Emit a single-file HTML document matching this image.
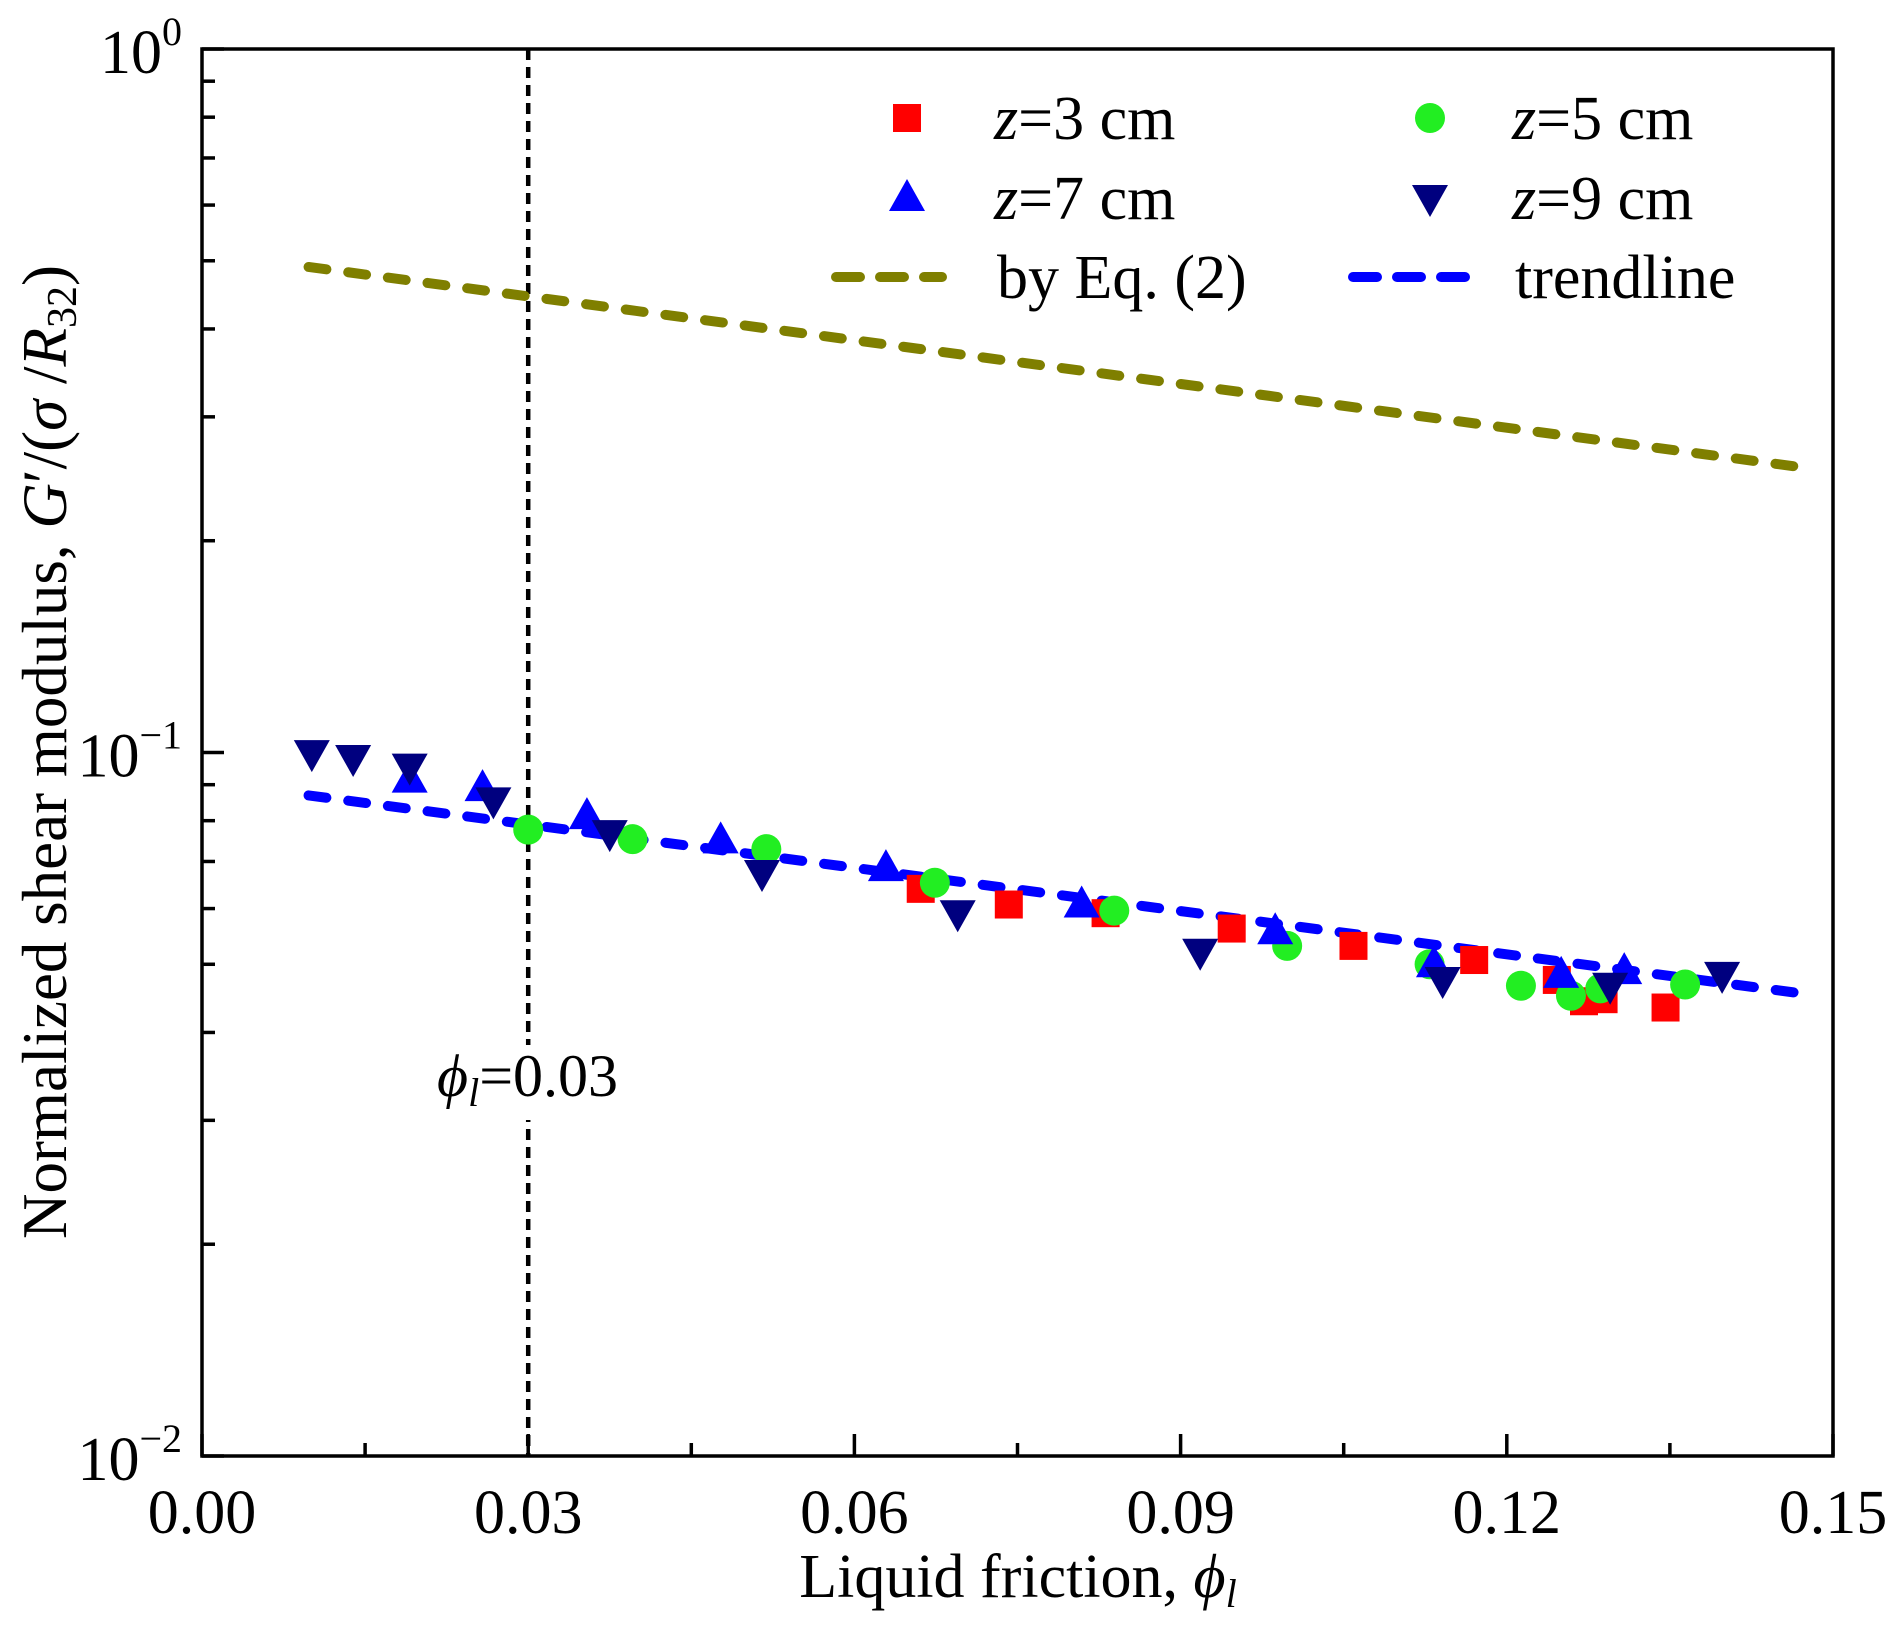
<!DOCTYPE html>
<html><head><meta charset="utf-8">
<style>
html,body{margin:0;padding:0;background:#fff;}
svg{display:block;font-family:"Liberation Serif",serif;}
</style></head>
<body>
<svg id="chart" width="1900" height="1625" viewBox="0 0 1900 1625" xmlns="http://www.w3.org/2000/svg">
<g id="axes"></g>
<g id="marks"></g>
<g id="legend"></g>
</svg>
<script>
const xTicks = [0, 0.03, 0.06, 0.09, 0.12, 0.15];
const xTickLabels = ["0.00", "0.03", "0.06", "0.09", "0.12", "0.15"];
const yDecades = [0, -1, -2];
const z3x = [0.0661, 0.0742, 0.0831, 0.0947, 0.1059, 0.1170, 0.1246, 0.1271, 0.1289, 0.1346];
const z3y = [0.0640, 0.0608, 0.0591, 0.0562, 0.0531, 0.0507, 0.0475, 0.0443, 0.0446, 0.0434];
const z5x = [0.0300, 0.0396, 0.0519, 0.0674, 0.0839, 0.0998, 0.1129, 0.1213, 0.1259, 0.1286, 0.1364];
const z5y = [0.0777, 0.0753, 0.0729, 0.0653, 0.0596, 0.0531, 0.0500, 0.0466, 0.0451, 0.0462, 0.0468];
const z7x = [0.0191, 0.0258, 0.0354, 0.0477, 0.0629, 0.0809, 0.0987, 0.1133, 0.1250, 0.1308];
const z7y = [0.0915, 0.0890, 0.0812, 0.0750, 0.0685, 0.0608, 0.0557, 0.0500, 0.0483, 0.0489];
const z9x = [0.0101, 0.0139, 0.0191, 0.0268, 0.0375, 0.0515, 0.0695, 0.0918, 0.1141, 0.1295, 0.1398];
const z9y = [0.0998, 0.0982, 0.0955, 0.0855, 0.0768, 0.0674, 0.0591, 0.0521, 0.0475, 0.0466, 0.0483];
const trendX = [0.0098, 0.1478];
const trendY = [0.0869, 0.0453];
const eq2X = [0.0098, 0.1478];
const eq2Y = [0.490, 0.2535];
const refLineX = 0.03;

const NS = "http://www.w3.org/2000/svg";
const L = 202, R = 1833, T = 49, B = 1456;
const xs = v => L + (v - 0) / 0.15 * (R - L);
const ys = v => T + (0 - Math.log10(v)) / 2 * (B - T);
function mk(tag, attrs, parent, text) {
  const e = document.createElementNS(NS, tag);
  for (const k in attrs) e.setAttribute(k, attrs[k]);
  if (text !== undefined) e.textContent = text;
  parent.appendChild(e);
  return e;
}
const axes = document.getElementById("axes");
const marks = document.getElementById("marks");
const legend = document.getElementById("legend");

let vl = mk("line", {x1: xs(refLineX), x2: xs(refLineX), y1: T, y2: B, stroke: "#000", "stroke-width": 4.5, "stroke-dasharray": "11 7"}, axes);


let lb = mk("rect", {x: xs(refLineX) - 92, y: 1045, width: 200, height: 75, fill: "#fff"}, axes);


let rt = mk("text", {x: 437, y: 1096, "font-size": 60}, axes);


rt.innerHTML = '<tspan font-style="italic">ϕ</tspan><tspan font-style="italic" font-size="40" dy="10">l</tspan><tspan dy="-10">=0.03</tspan>';

let fr = mk("rect", {x: L, y: T, width: R - L, height: B - T, fill: "none", stroke: "#000", "stroke-width": 3.5}, axes);



xTicks.forEach((v, i) => {
  let t = mk("line", {x1: xs(v), x2: xs(v), y1: B, y2: B - 22, stroke: "#000", "stroke-width": 3.5}, axes);
  
  
  let tx = mk("text", {x: xs(v), y: 1533, "font-size": 62, "text-anchor": "middle"}, axes, xTickLabels[i]);
  
  
  if (i < xTicks.length - 1) {
    let m = mk("line", {x1: xs(v + 0.015), x2: xs(v + 0.015), y1: B, y2: B - 13, stroke: "#000", "stroke-width": 3.5}, axes);
    
    
  }
});
yDecades.forEach(d => {
  const v = Math.pow(10, d);
  let t = mk("line", {x1: L, x2: L + 22, y1: ys(v), y2: ys(v), stroke: "#000", "stroke-width": 3.5}, axes);
  
  
  let tx = mk("text", {x: 182, y: ys(v) + 24, "font-size": 62, "text-anchor": "end"}, axes);
  
  
  tx.innerHTML = '10<tspan font-size="40" dy="-28">' + (d === 0 ? "0" : "−" + (-d)) + '</tspan>';
  if (d > -2) {
    for (let k = 2; k <= 9; k++) {
      const mv = k * Math.pow(10, d - 1);
      let m = mk("line", {x1: L, x2: L + 13, y1: ys(mv), y2: ys(mv), stroke: "#000", "stroke-width": 3.5}, axes);
      
      
    }
  }
});
let xt = mk("text", {x: 1018, y: 1597, "font-size": 62, "text-anchor": "middle"}, axes);


xt.innerHTML = 'Liquid friction, <tspan font-style="italic">ϕ</tspan><tspan font-style="italic" font-size="40" dy="10">l</tspan>';
let yt = mk("text", {x: 0, y: 0, "font-size": 63, "text-anchor": "middle", transform: "translate(66,752) rotate(-90)"}, axes);


yt.innerHTML = 'Normalized shear modulus, <tspan font-style="italic">G</tspan>′/(<tspan font-style="italic">σ</tspan> /<tspan font-style="italic">R</tspan><tspan font-size="42" dy="10">32</tspan><tspan dy="-10">)</tspan>';

function dashLine(xa, ya, color, name) {
  let p = mk("line", {x1: xs(xa[0]), y1: ys(ya[0]), x2: xs(xa[1]), y2: ys(ya[1]), stroke: color, "stroke-width": 10, "stroke-linecap": "round", "stroke-dasharray": "18 22"}, marks);
  
  
}
dashLine(eq2X, eq2Y, "#7f7f00", "eq2-line");
dashLine(trendX, trendY, "#0000ff", "trendline");

function marker(shape, cx, cy, color, parent) {
  if (shape === "sq") return mk("rect", {x: cx - 14, y: cy - 14, width: 28, height: 28, fill: color}, parent);
  if (shape === "ci") return mk("circle", {cx: cx, cy: cy, r: 15, fill: color}, parent);
  if (shape === "up") return mk("polygon", {points: `${cx},${cy - 19} ${cx - 18},${cy + 13} ${cx + 18},${cy + 13}`, fill: color}, parent);
  return mk("polygon", {points: `${cx},${cy + 19} ${cx - 18},${cy - 13} ${cx + 18},${cy - 13}`, fill: color}, parent);
}
const series = [
  [z3x, z3y, "sq", "#ff0000", "z3-point"],
  [z5x, z5y, "ci", "#22ee22", "z5-point"],
  [z7x, z7y, "up", "#0000ff", "z7-point"],
  [z9x, z9y, "dn", "#00007f", "z9-point"]
];
series.forEach(s => {
  s[0].forEach((xv, i) => {
    let m = marker(s[2], xs(xv), ys(s[1][i]), s[3], marks);
    
    
  });
});

const legItems = [
  ["sq", "#ff0000", 907, 118, 994, "3", "legend-z3"],
  ["ci", "#22ee22", 1430, 118, 1512, "5", "legend-z5"],
  ["up", "#0000ff", 907, 198, 994, "7", "legend-z7"],
  ["dn", "#00007f", 1430, 198, 1512, "9", "legend-z9"]
];
legItems.forEach(it => {
  let m = marker(it[0], it[2], it[3], it[1], legend);
  
  
  let t = mk("text", {x: it[4], y: it[3] + 21, "font-size": 62}, legend);
  
  
  t.innerHTML = '<tspan font-style="italic">z</tspan>=' + it[5] + ' cm';
});
let l1 = mk("line", {x1: 836, x2: 942, y1: 277, y2: 277, stroke: "#7f7f00", "stroke-width": 10, "stroke-linecap": "round", "stroke-dasharray": "24 20"}, legend);


let t1 = mk("text", {x: 997, y: 298, "font-size": 62}, legend, "by Eq. (2)");


let l2 = mk("line", {x1: 1353, x2: 1470, y1: 277, y2: 277, stroke: "#0000ff", "stroke-width": 10, "stroke-linecap": "round", "stroke-dasharray": "24 20"}, legend);


let t2 = mk("text", {x: 1515, y: 298, "font-size": 62}, legend, "trendline");


</script>
</body></html>
